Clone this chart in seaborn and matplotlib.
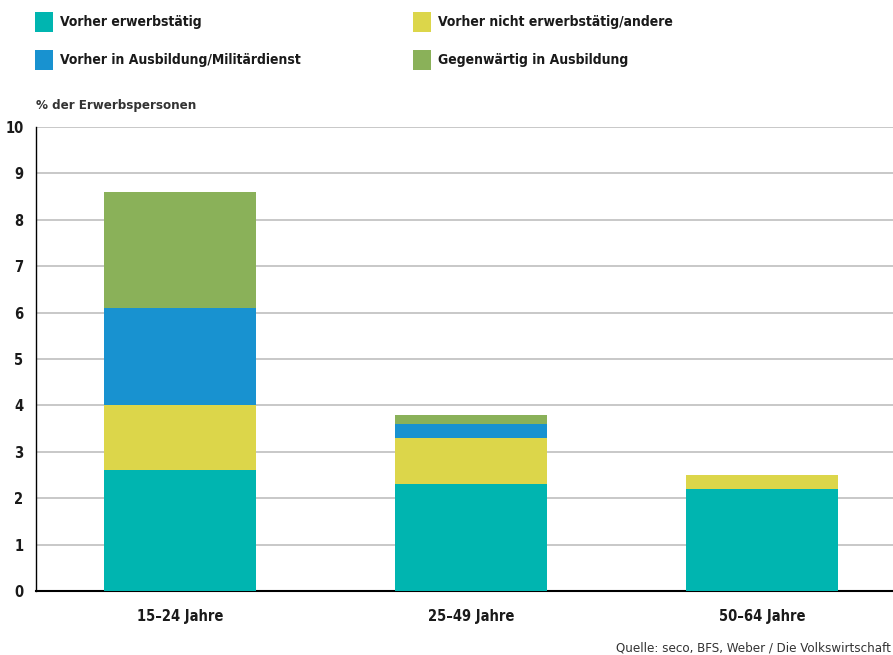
import matplotlib
matplotlib.use("Agg")
import matplotlib.pyplot as plt
import matplotlib.patches as mpatches
import pandas as pd
import seaborn as sns

# Data
groups = ["15–24 Jahre", "25–49 Jahre", "50–64 Jahre"]
vorher_erwerbstaetig = [2.6, 2.3, 2.2]
vorher_nicht_erwerbstaetig = [1.4, 1.0, 0.3]
vorher_ausbildung = [2.1, 0.3, 0.0]
gegenwaertig_ausbildung = [2.5, 0.2, 0.0]

series = [
    ("Vorher erwerbstätig", vorher_erwerbstaetig, "#00b5b0"),
    ("Vorher nicht erwerbstätig/andere", vorher_nicht_erwerbstaetig, "#dcd64a"),
    ("Vorher in Ausbildung/Militärdienst", vorher_ausbildung, "#1892d0"),
    ("Gegenwärtig in Ausbildung", gegenwaertig_ausbildung, "#8ab159"),
]

sns.set_style("white")
plt.rcParams["font.family"] = ["DejaVu Sans"]
plt.rcParams["font.stretch"] = "condensed"

fig = plt.figure(figsize=(8.93, 6.55), dpi=100)
ax = fig.add_axes([36 / 893, 64 / 655, 1 - 36 / 893, 464 / 655])

# stacked bars: draw cumulative totals from the top down
cum = [0.0] * len(groups)
cums = []
for name, vals, color in series:
    cum = [c + v for c, v in zip(cum, vals)]
    cums.append((name, list(cum), color))

for name, vals, color in reversed(cums):
    df = pd.DataFrame({"group": groups, "value": vals})
    sns.barplot(data=df, x="group", y="value", color=color, width=0.52,
                saturation=1, linewidth=0, ax=ax, zorder=3)

ax.set_ylim(0, 10)
ax.set_xlim(-0.495, 2.45)
ax.set_yticks(range(0, 11))
ax.yaxis.grid(True, color="#c4c4c4", linewidth=1.3, zorder=0)
ax.set_axisbelow(True)
ax.set_xlabel("")
ax.set_ylabel("")
for s in ["top", "right"]:
    ax.spines[s].set_visible(False)
ax.spines["left"].set_color("black")
ax.spines["bottom"].set_color("black")
ax.spines["left"].set_linewidth(1.0)
ax.spines["bottom"].set_linewidth(1.5)
ax.tick_params(axis="both", length=0, labelsize=10.5, colors="#1a1a1a")
ax.tick_params(axis="y", pad=9)
ax.tick_params(axis="x", pad=13)
for lbl in ax.get_xticklabels() + ax.get_yticklabels():
    lbl.set_fontweight("bold")

# y axis title
fig.text(36 / 893, 1 - 105 / 655, "% der Erwerbspersonen", fontsize=9.5,
         fontweight="bold", color="#333333", va="center", ha="left")

# legend laid out in two columns
legend_pos = [(35, 22), (413, 22), (35, 60), (413, 60)]
for (px, py), (name, _, color) in zip(legend_pos, series):
    fig.patches.append(mpatches.Rectangle(
        (px / 893, 1 - (py + 10) / 655), 18 / 893, 20 / 655,
        transform=fig.transFigure, facecolor=color, edgecolor="none"))
    fig.text((px + 25) / 893, 1 - py / 655, name, fontsize=10,
             fontweight="bold", color="#1a1a1a", va="center", ha="left")

# source
fig.text(891 / 893, 1 - 648 / 655, "Quelle: seco, BFS, Weber / Die Volkswirtschaft",
         fontsize=9.5, color="#333333", va="center", ha="right")

fig.savefig("out.png", dpi=100)
